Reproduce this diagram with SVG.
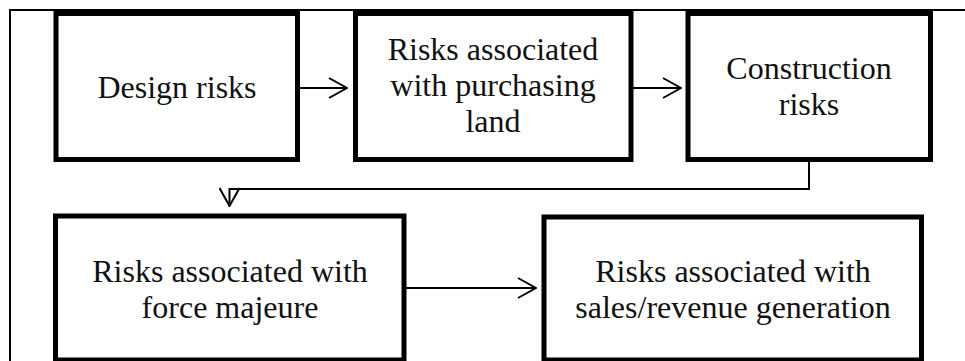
<svg xmlns="http://www.w3.org/2000/svg" width="965" height="361" viewBox="0 0 965 361">
<defs>
<style>
.box{fill:#fff;stroke:#000;stroke-width:5}
.t{font-family:"Liberation Serif","Times New Roman",serif;font-size:32px;fill:#111;text-anchor:middle}
.c{fill:none;stroke:#000;stroke-width:2}
.frame{fill:none;stroke:#000;stroke-width:2}
</style>
<marker id="ah" viewBox="0 0 20 22" refX="19" refY="11" markerWidth="20" markerHeight="22" markerUnits="userSpaceOnUse" orient="auto">
<path d="M1,1 L19,11 L1,21" fill="none" stroke="#000" stroke-width="2"/>
</marker>
</defs>
<rect width="965" height="361" fill="#fff"/>
<path class="frame" d="M10,361 V10 H965"/>
<g id="connectors">
<line class="c" x1="300" y1="88" x2="347" y2="88" marker-end="url(#ah)"/>
<line class="c" x1="633" y1="88" x2="681" y2="88" marker-end="url(#ah)"/>
<path class="c" d="M809,162 V189 H229.5 V206" marker-end="url(#ah)"/>
<line class="c" x1="406" y1="288" x2="536" y2="288" marker-end="url(#ah)"/>
</g>
<g id="n1">
<rect class="box" x="56" y="13.5" width="241.5" height="146"/>
<text class="t" x="177" y="98">Design risks</text>
</g>
<g id="n2">
<rect class="box" x="355.5" y="13.5" width="275.5" height="146"/>
<text class="t" x="493" y="60">Risks associated</text>
<text class="t" x="493" y="96">with purchasing</text>
<text class="t" x="493" y="132">land</text>
</g>
<g id="n3">
<rect class="box" x="688" y="13.5" width="242.5" height="146"/>
<text class="t" x="809" y="79">Construction</text>
<text class="t" x="809" y="115">risks</text>
</g>
<g id="n4">
<rect class="box" x="55.5" y="216" width="348.5" height="144"/>
<text class="t" x="230" y="282">Risks associated with</text>
<text class="t" x="230" y="318">force majeure</text>
</g>
<g id="n5">
<rect class="box" x="544" y="217" width="377.5" height="143"/>
<text class="t" x="733" y="282">Risks associated with</text>
<text class="t" x="733" y="318">sales/revenue generation</text>
</g>
</svg>
